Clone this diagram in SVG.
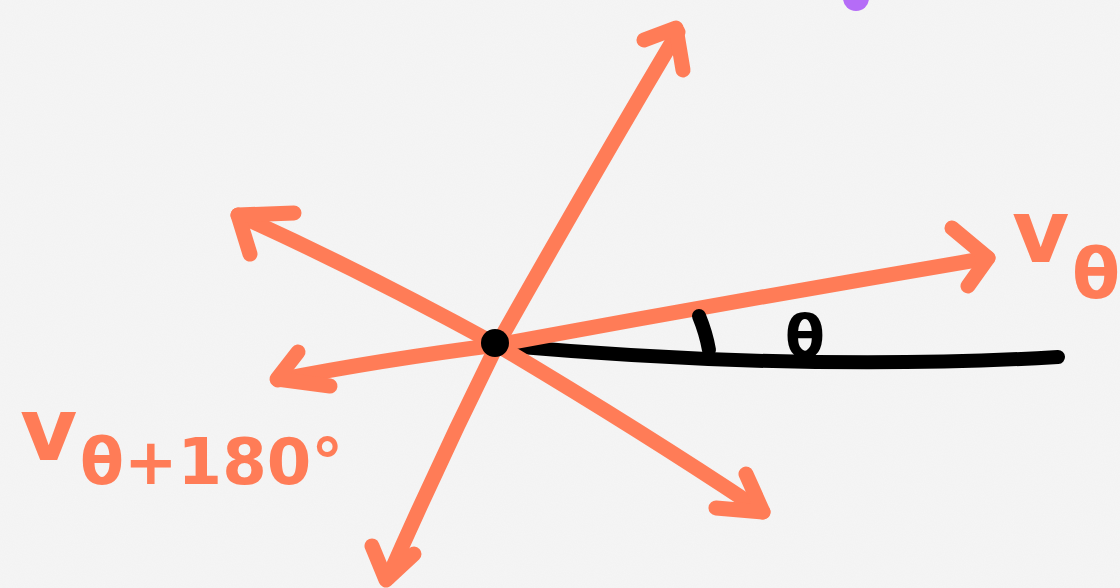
<svg xmlns="http://www.w3.org/2000/svg" width="1120" height="588" viewBox="0 0 1120 588">
<defs>
<filter id="paper" x="0" y="0" width="100%" height="100%">
<feTurbulence type="fractalNoise" baseFrequency="0.9" numOctaves="2" seed="3" result="n"/>
<feColorMatrix type="matrix" values="0 0 0 0 0.93 0 0 0 0 0.93 0 0 0 0 0.93 0 0 0 -0.9 0.6" in="n" result="c"/>
<feComposite in="c" in2="SourceGraphic" operator="over"/>
</filter>
<style>
.o{fill:none;stroke:#ff7c57;stroke-width:15;stroke-linecap:round;stroke-linejoin:round}
.k{fill:none;stroke:#000;stroke-width:14;stroke-linecap:round;stroke-linejoin:round}
.lab{fill:#ff7c57;font-family:"DejaVu Sans",sans-serif;font-weight:bold}
</style>
</defs>
<rect width="1120" height="588" fill="#f3f3f3" filter="url(#paper)"/>
<circle cx="856" cy="-2" r="13" fill="#b56cf7"/>
<g id="connectors">
<path class="k" d="M497,345 Q800,372 1058,357"/>
<path class="o" d="M497,345 Q590,180 678,32"/>
<path class="o" d="M644,40 L676,28 L683,70"/>
<path class="o" d="M497,345 Q740,300 988,258"/>
<path class="o" d="M952,228 L988,258 L968,286"/>
<path class="o" d="M497,345 Q360,270 238,215"/>
<path class="o" d="M294,213 L238,215 L250,254"/>
<path class="o" d="M497,345 Q380,360 278,380"/>
<path class="o" d="M298,352 L277,379 L330,386"/>
<path class="o" d="M497,345 Q640,430 763,512"/>
<path class="o" d="M746,474 L763,512 L716,508"/>
<path class="o" d="M497,345 Q440,460 388,578"/>
<path class="o" d="M372,546 L386,580 L414,554"/>
</g>
<g id="origin">
<circle cx="495" cy="343" r="14" fill="#000"/>
</g>
<g id="angle">
<path class="k" d="M699,316 Q706,333 709,350"/>
<text x="785" y="357" font-family="DejaVu Sans,sans-serif" font-weight="bold" font-size="58" fill="#000">θ</text>
</g>
<g id="label-v-theta">
<text class="lab" x="1012" y="262" font-size="88">v</text>
<text class="lab" x="1072" y="298" font-size="70">θ</text>
</g>
<g id="label-v-theta-180">
<text class="lab" x="20" y="460" font-size="88">v</text>
<text class="lab" x="80" y="484" font-size="64">θ+180°</text>
</g>
</svg>
